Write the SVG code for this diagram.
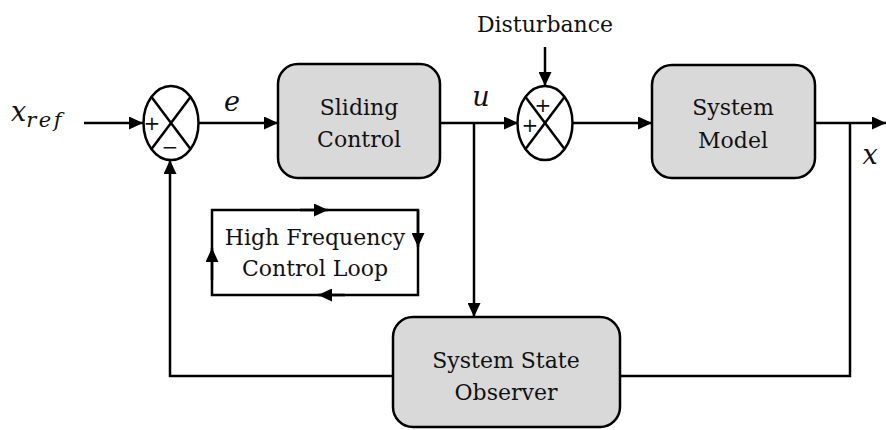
<svg xmlns="http://www.w3.org/2000/svg" width="886" height="430" viewBox="0 0 886 430">
  <defs>
    <marker id="arrow" markerUnits="userSpaceOnUse" markerWidth="15" markerHeight="13" refX="14" refY="6.5" orient="auto">
      <path d="M0,0 L14,6.5 L0,13 Z" fill="#000"/>
    </marker>
    <style>
      .block { fill: #d9d9d9; stroke: #000; stroke-width: 2.5; }
      .sum { fill: #fff; stroke: #000; stroke-width: 2.5; }
      .cross { stroke: #000; stroke-width: 2.5; fill: none; }
      .wire { fill: none; stroke: #000; stroke-width: 2.5; }
      .arr { marker-end: url(#arrow); }
      .lbl { font-family: "DejaVu Serif", "Liberation Serif", serif; font-size: 22px; fill: #111; text-anchor: middle; }
      .math { font-family: "DejaVu Serif", "Liberation Serif", serif; font-style: italic; font-size: 27px; fill: #111; }
      .sign { font-family: "DejaVu Sans", "Liberation Sans", sans-serif; font-size: 20px; fill: #111; text-anchor: middle; }
    </style>
  </defs>

  <!-- connectors -->
  <g id="connectors">
    <line class="wire arr" x1="84" y1="123" x2="143" y2="123"/>
    <line class="wire arr" x1="198" y1="123" x2="278" y2="123"/>
    <line class="wire arr" x1="440" y1="123" x2="518" y2="123"/>
    <line class="wire arr" x1="545" y1="47" x2="545" y2="86"/>
    <line class="wire arr" x1="572" y1="123" x2="652" y2="123"/>
    <line class="wire arr" x1="815" y1="123" x2="886" y2="123"/>
    <line class="wire arr" x1="474" y1="123" x2="474" y2="317"/>
    <polyline class="wire" points="850,123 850,376 620,376"/>
    <polyline class="wire arr" points="393,376 170,376 170,160"/>
  </g>

  <!-- high frequency loop -->
  <g id="hf-loop">
    <rect class="wire" x="212" y="210" width="206" height="85"/>
    <line class="wire arr" x1="300" y1="210" x2="328" y2="210"/>
    <line class="wire arr" x1="418" y1="210" x2="418" y2="247"/>
    <line class="wire arr" x1="345" y1="295" x2="318" y2="295"/>
    <line class="wire arr" x1="212" y1="280" x2="212" y2="248"/>
    <text class="lbl" x="315" y="245">High Frequency</text>
    <text class="lbl" x="315" y="276">Control Loop</text>
  </g>

  <!-- summing junction 1 -->
  <g id="sum1">
    <ellipse class="sum" cx="171" cy="123" rx="27.5" ry="37"/>
    <line class="cross" x1="151.5" y1="97" x2="190.5" y2="149"/>
    <line class="cross" x1="190.5" y1="97" x2="151.5" y2="149"/>
    <text class="sign" x="152" y="130">+</text>
    <text class="sign" x="170" y="154">−</text>
  </g>

  <!-- summing junction 2 -->
  <g id="sum2">
    <ellipse class="sum" cx="545" cy="123" rx="27.5" ry="37"/>
    <line class="cross" x1="525.5" y1="97" x2="564.5" y2="149"/>
    <line class="cross" x1="564.5" y1="97" x2="525.5" y2="149"/>
    <text class="sign" x="543" y="112">+</text>
    <text class="sign" x="530" y="132">+</text>
  </g>

  <!-- sliding control -->
  <g id="sliding-control">
    <rect class="block" x="278" y="64" width="162" height="114" rx="20"/>
    <text class="lbl" x="359" y="115">Sliding</text>
    <text class="lbl" x="359" y="147">Control</text>
  </g>

  <!-- system model -->
  <g id="system-model">
    <rect class="block" x="652" y="65" width="163" height="113" rx="20"/>
    <text class="lbl" x="733" y="115">System</text>
    <text class="lbl" x="733" y="148">Model</text>
  </g>

  <!-- system state observer -->
  <g id="observer">
    <rect class="block" x="393" y="317" width="227" height="110" rx="20"/>
    <text class="lbl" x="506" y="368">System State</text>
    <text class="lbl" x="506" y="400">Observer</text>
  </g>

  <!-- labels -->
  <g id="labels">
    <text class="math" x="11" y="121">x<tspan font-size="21" dy="6" letter-spacing="2.5">ref</tspan></text>
    <text class="math" x="232" y="111" text-anchor="middle">e</text>
    <text class="math" x="481" y="106" text-anchor="middle">u</text>
    <text class="math" x="870" y="164" text-anchor="middle">x</text>
    <text class="lbl" x="545" y="32">Disturbance</text>
  </g>
</svg>
